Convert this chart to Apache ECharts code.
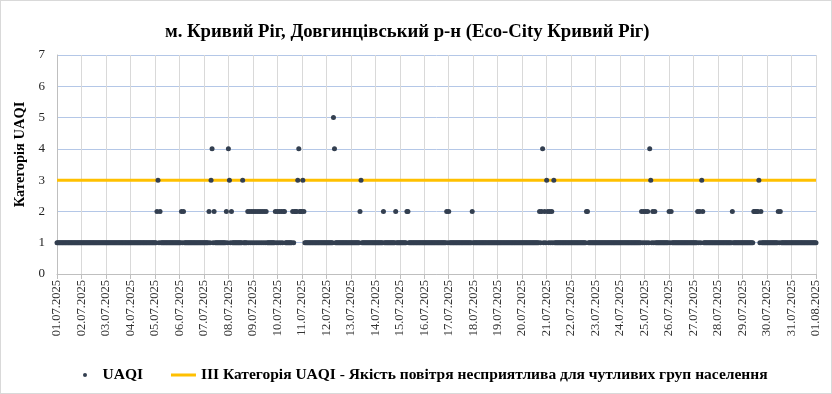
<!DOCTYPE html>
<html><head><meta charset="utf-8">
<script src="https://cdn.jsdelivr.net/npm/echarts@6/dist/echarts.min.js"></script>
<style>html,body{margin:0;padding:0;background:#fff}#c{width:830px;height:392px;border:1px solid #d9d9d9}</style>
</head><body><div id="c"></div>
<script>
const titleText = 'м. Кривий Ріг, Довгинцівський р-н (Eco-City Кривий Ріг)';
const yAxisName = 'Категорія UAQI';
const seriesName = 'UAQI';
const lineName = 'III Категорія UAQI - Якість повітря несприятлива для чутливих груп населення';
const thresholdValue = 3;
const dateLabels = ['01.07.2025','02.07.2025','03.07.2025','04.07.2025','05.07.2025','06.07.2025','07.07.2025','08.07.2025','09.07.2025','10.07.2025','11.07.2025','12.07.2025','13.07.2025','14.07.2025','15.07.2025','16.07.2025','17.07.2025','18.07.2025','19.07.2025','20.07.2025','21.07.2025','22.07.2025','23.07.2025','24.07.2025','25.07.2025','26.07.2025','27.07.2025','28.07.2025','29.07.2025','30.07.2025','31.07.2025','01.08.2025'];
// hourly UAQI values, one string of 24 digits per day (hours 00..23), spaces only for readability
const hourlyByDay = [
'111111 111111 111111 111111', // 01.07
'111111 111111 111111 111111', // 02.07
'111111 111111 111111 111111', // 03.07
'111111 111111 111111 111111', // 04.07
'112312 111111 111111 111111', // 05.07
'112121 111111 111111 111111', // 06.07
'111112 134121 111111 111121', // 07.07
'431211 111111 113111 121212', // 08.07
'121212 121212 121111 111121', // 09.07
'212121 221111 111212 223422', // 10.07
'232111 111111 111111 111111', // 11.07
'111111 154111 111111 111111', // 12.07
'111111 111231 111111 111111', // 13.07
'111111 112111 111111 112111', // 14.07
'111111 122111 111111 111111', // 15.07
'111111 111111 111111 111121', // 16.07
'211111 111111 111111 111112', // 17.07
'111111 111111 111111 111111', // 18.07
'111111 111111 111111 111111', // 19.07
'111111 111111 111112 124121', // 20.07
'321212 131111 111111 111111', // 21.07
'111111 111111 111221 111111', // 22.07
'111111 111111 111111 111111', // 23.07
'111111 111111 111111 111212', // 24.07
'121214 312121 111111 111111', // 25.07
'212111 111111 111111 111111', // 26.07
'111121 213211 111111 111111', // 27.07
'111111 111111 112111 111111', // 28.07
'111111 111112 222231 211111', // 29.07
'111111 111112 121111 111111', // 30.07
'111111 111111 111111 111111', // 31.07
'1'                              // 01.08 00h
];

const points = [];
hourlyByDay.forEach((s, d) => {
  s.replace(/\s/g, '').split('').forEach((ch, h) => {
    points.push([d * 24 + h, Number(ch)]);
  });
});
const lastHour = (dateLabels.length - 1) * 24;
const lineData = [[0, thresholdValue], [lastHour, thresholdValue]];

const chart = echarts.init(document.getElementById('c'));
chart.setOption({
  animation: false,
  backgroundColor: '#fff',
  title: {
    text: titleText, left: 159, top: 17,
    textStyle: { fontFamily: 'Liberation Serif', fontWeight: 'bold', fontSize: 18.7, color: '#000' }
  },
  legend: {
    bottom: 5, left: 77, itemGap: 28, itemWidth: 25, itemHeight: 4,
    data: [
      { name: seriesName, icon: 'circle' },
      { name: lineName, icon: 'path://M0 0L0.01 0L0.01 0.01Z M0 4L0.01 4L0.01 3.99Z M0 0.5L25 0.5L25 3.5L0 3.5Z', itemStyle: { color: '#ffc000' } }
    ],
    textStyle: { fontFamily: 'Liberation Serif', fontWeight: 'bold', fontSize: 15.5, color: '#000' }
  },
  grid: { left: 56, right: 15, top: 54, bottom: 119 },
  xAxis: {
    type: 'value', min: 0, max: lastHour, interval: 24,
    axisLine: { lineStyle: { color: '#bfbfbf' } },
    axisTick: { show: true, length: 5, lineStyle: { color: '#bfbfbf' } },
    splitLine: { show: true, lineStyle: { color: '#d9d9d9' } },
    axisLabel: {
      rotate: 90, margin: 6, fontFamily: 'Liberation Serif', fontSize: 12.5, color: '#333',
      formatter: v => dateLabels[Math.round(v / 24)] || ''
    }
  },
  yAxis: {
    type: 'value', min: 0, max: 7, interval: 1,
    name: yAxisName, nameLocation: 'middle', nameGap: 27, nameRotate: 90,
    nameTextStyle: { fontFamily: 'Liberation Serif', fontWeight: 'bold', fontSize: 14.5, color: '#000', padding: [0, 0, 0, 20] },
    axisLine: { show: true, lineStyle: { color: '#bfbfbf' } },
    axisTick: { show: false },
    splitLine: { lineStyle: { color: '#b4c7e7' } },
    axisLabel: { fontFamily: 'Liberation Serif', fontSize: 13, color: '#222', margin: 12 }
  },
  series: [
    {
      name: lineName, type: 'line', data: lineData, showSymbol: false, symbol: 'none',
      lineStyle: { color: '#ffc000', width: 3 }, itemStyle: { color: '#ffc000' }, z: 2
    },
    {
      name: seriesName, type: 'scatter', data: points, symbolSize: 5,
      itemStyle: { color: '#333f50', opacity: 1 }, z: 3
    }
  ]
});
</script></body></html>
